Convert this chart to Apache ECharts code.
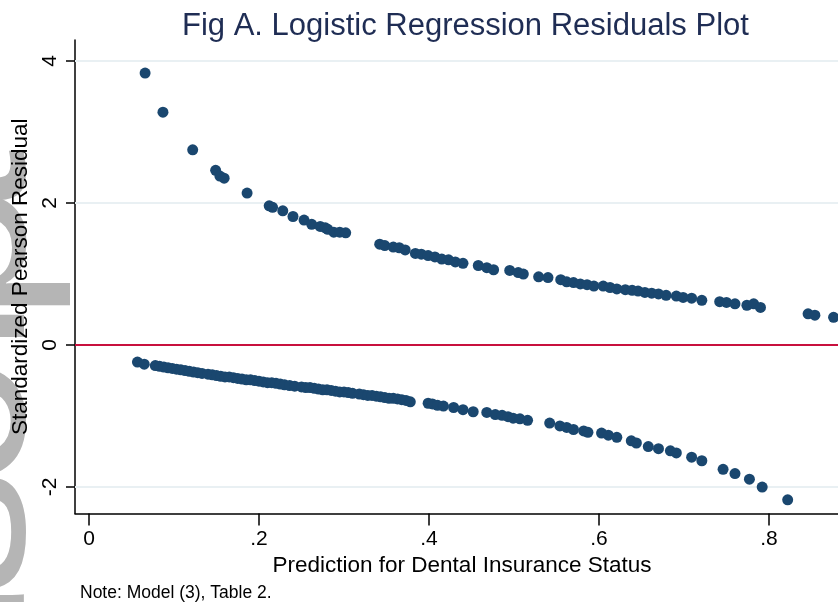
<!DOCTYPE html>
<html>
<head>
<meta charset="utf-8">
<script src="https://cdn.jsdelivr.net/npm/echarts@6/dist/echarts.min.js"></script>
<style>
html,body{margin:0;padding:0;background:#fff;}
#chart{width:838px;height:602px;}
</style>
</head>
<body>
<div id="chart"></div>
<script>
// ---- data ----
const titleText = 'Fig A. Logistic Regression Residuals Plot';
const xAxisTitle = 'Prediction for Dental Insurance Status';
const yAxisTitle = 'Standardized Pearson Residual';
const noteText = 'Note: Model (3), Table 2.';
const xTickValues = [0, 0.2, 0.4, 0.6, 0.8];
const xTickLabels = ['0', '.2', '.4', '.6', '.8'];
const yTickValues = [-2, 0, 2, 4];
const yTickLabels = ['-2', '0', '2', '4'];
const zeroLine = 0;

// upper branch (observed outcome = 1)
const upperX = [0.066,0.087,0.122,0.149,0.154,0.159,0.186,0.212,0.216,0.228,0.240,0.253,0.262,0.272,0.278,0.281,0.288,0.295,0.302,
  0.342,0.348,0.358,0.365,0.372,0.384,0.391,0.399,0.407,0.415,0.423,0.431,0.440,0.458,0.468,0.476,0.495,0.505,0.511,0.529,0.540,
  0.555,0.562,0.570,0.578,0.586,0.594,0.605,0.613,0.621,0.631,0.639,0.646,0.654,0.662,0.670,0.679,0.691,0.699,0.709,0.721,
  0.742,0.750,0.760,0.774,0.782,0.790,0.846,0.854,0.876];
const upperY = [3.83,3.28,2.75,2.46,2.38,2.35,2.14,1.96,1.94,1.89,1.81,1.76,1.70,1.67,1.65,1.63,1.59,1.59,1.58,
  1.42,1.40,1.38,1.37,1.34,1.29,1.28,1.26,1.24,1.21,1.20,1.17,1.15,1.12,1.09,1.06,1.05,1.02,1.00,0.96,0.95,
  0.92,0.89,0.88,0.86,0.85,0.83,0.83,0.81,0.79,0.78,0.77,0.76,0.74,0.73,0.72,0.70,0.69,0.67,0.66,0.63,
  0.61,0.60,0.58,0.56,0.58,0.53,0.44,0.42,0.39];

// lower branch (observed outcome = 0)
const lowerX = [0.057,0.065,0.078,0.083,0.088,0.093,0.098,0.103,0.108,0.113,0.118,0.123,0.128,0.133,0.140,0.145,0.150,0.155,0.160,
  0.165,0.170,0.175,0.180,0.185,0.190,0.195,0.200,0.205,0.210,0.215,0.220,0.225,0.230,0.236,0.242,0.250,0.255,0.260,0.265,0.270,
  0.275,0.280,0.285,0.290,0.295,0.300,0.305,0.310,0.318,0.323,0.328,0.333,0.338,0.343,0.348,0.353,0.358,0.363,0.368,0.373,0.378,
  0.399,0.404,0.410,0.417,0.429,0.440,0.452,0.468,0.478,0.486,0.493,0.499,0.507,0.516,0.542,0.554,0.562,0.570,0.582,0.587,
  0.603,0.611,0.621,0.638,0.644,0.658,0.670,0.684,0.691,0.709,0.721,0.746,0.760,0.777,0.792,0.822];
const lowerY = [-0.24,-0.27,-0.29,-0.30,-0.31,-0.32,-0.33,-0.34,-0.35,-0.36,-0.37,-0.38,-0.39,-0.40,-0.41,-0.42,-0.43,-0.44,-0.45,
  -0.45,-0.46,-0.47,-0.48,-0.49,-0.49,-0.50,-0.51,-0.52,-0.53,-0.53,-0.54,-0.55,-0.56,-0.57,-0.58,-0.59,-0.60,-0.60,-0.61,-0.62,
  -0.63,-0.63,-0.64,-0.65,-0.66,-0.66,-0.67,-0.68,-0.69,-0.70,-0.71,-0.71,-0.72,-0.73,-0.74,-0.75,-0.75,-0.76,-0.77,-0.78,-0.80,
  -0.82,-0.83,-0.85,-0.86,-0.88,-0.91,-0.94,-0.95,-0.98,-0.99,-1.01,-1.03,-1.04,-1.06,-1.10,-1.14,-1.16,-1.19,-1.21,-1.23,
  -1.24,-1.27,-1.30,-1.35,-1.38,-1.43,-1.46,-1.49,-1.52,-1.58,-1.63,-1.75,-1.81,-1.89,-2.00,-2.18];

// watermark letters cut by the left edge (reading bottom to top) and their approximate vertical centres
const wmLetters = ['u','s','c','i','p','t'];
const wmCentres = [648, 532, 426, 326, 252, 184];

// ---- chart ----
const FONT = '"Liberation Sans", Arial, Helvetica, sans-serif';
const dotColor = '#1a476f';
const upperData = upperX.map((x, i) => [x, upperY[i]]);
const lowerData = lowerX.map((x, i) => [x, lowerY[i]]);

const wmGraphics = wmLetters.map((ch, i) => ({
  type: 'text',
  x: 73, y: wmCentres[i],
  rotation: Math.PI / 2,
  scaleX: 1.15,
  z: -10, silent: true,
  style: { text: ch, font: '220px ' + FONT, fill: '#b5b5b5', align: 'center', verticalAlign: 'bottom' }
}));

const chart = echarts.init(document.getElementById('chart'), null, { renderer: 'canvas' });
chart.setOption({
  animation: false,
  backgroundColor: '#ffffff',
  title: {
    text: titleText, left: 177, top: 6,
    textStyle: { fontFamily: FONT, fontSize: 31, fontWeight: 'normal', color: '#1f2d54' }
  },
  graphic: wmGraphics.concat([{
    type: 'text', left: 80, top: 584, z: 10,
    style: { text: noteText, font: '17.5px ' + FONT, fill: '#000' }
  }]),
  grid: { left: 75, right: 0, top: 40, bottom: 88.5, containLabel: false },
  xAxis: {
    type: 'value', min: -0.01647, max: 0.8812,
    name: xAxisTitle, nameLocation: 'middle', nameGap: 35,
    nameTextStyle: { fontFamily: FONT, fontSize: 22.5, color: '#000', padding: [0, 0, 0, 11] },
    axisLine: { show: true, onZero: false, lineStyle: { color: '#000', width: 1.5 } },
    axisTick: { show: true, length: 12, customValues: xTickValues, lineStyle: { color: '#000', width: 1.5 } },
    axisLabel: {
      customValues: xTickValues, margin: 15, fontFamily: FONT, fontSize: 21, color: '#000',
      formatter: v => { const k = xTickValues.findIndex(t => Math.abs(t - v) < 1e-9); return k >= 0 ? xTickLabels[k] : ''; }
    },
    splitLine: { show: false }
  },
  yAxis: {
    type: 'value', min: -2.373, max: 4.296,
    name: yAxisTitle, nameLocation: 'middle', nameGap: 36,
    nameTextStyle: { fontFamily: FONT, fontSize: 22.5, color: '#000' },
    axisLine: { show: true, onZero: false, lineStyle: { color: '#000', width: 1.5 } },
    axisTick: { show: true, length: 9, customValues: yTickValues, lineStyle: { color: '#000', width: 1.5 } },
    axisLabel: {
      customValues: yTickValues, rotate: 90, margin: 14, fontFamily: FONT, fontSize: 21, color: '#000',
      formatter: v => { const k = yTickValues.findIndex(t => Math.abs(t - v) < 1e-9); return k >= 0 ? yTickLabels[k] : ''; }
    },
    splitLine: { show: false }
  },
  series: [
    {
      type: 'scatter', data: upperData, symbolSize: 11, z: 5,
      itemStyle: { color: dotColor, opacity: 1 },
      markLine: {
        silent: true, symbol: 'none', label: { show: false }, z: 1,
        lineStyle: { color: '#e9f0f3', width: 2, type: 'solid' },
        data: yTickValues.filter(v => v !== zeroLine).map(v => ({ yAxis: v }))
      }
    },
    {
      type: 'scatter', data: lowerData, symbolSize: 11, z: 5,
      itemStyle: { color: dotColor, opacity: 1 },
      markLine: {
        silent: true, symbol: 'none', label: { show: false }, z: 2,
        lineStyle: { color: '#c8103e', width: 2, type: 'solid' },
        data: [{ yAxis: zeroLine }]
      }
    }
  ]
});
</script>
</body>
</html>
